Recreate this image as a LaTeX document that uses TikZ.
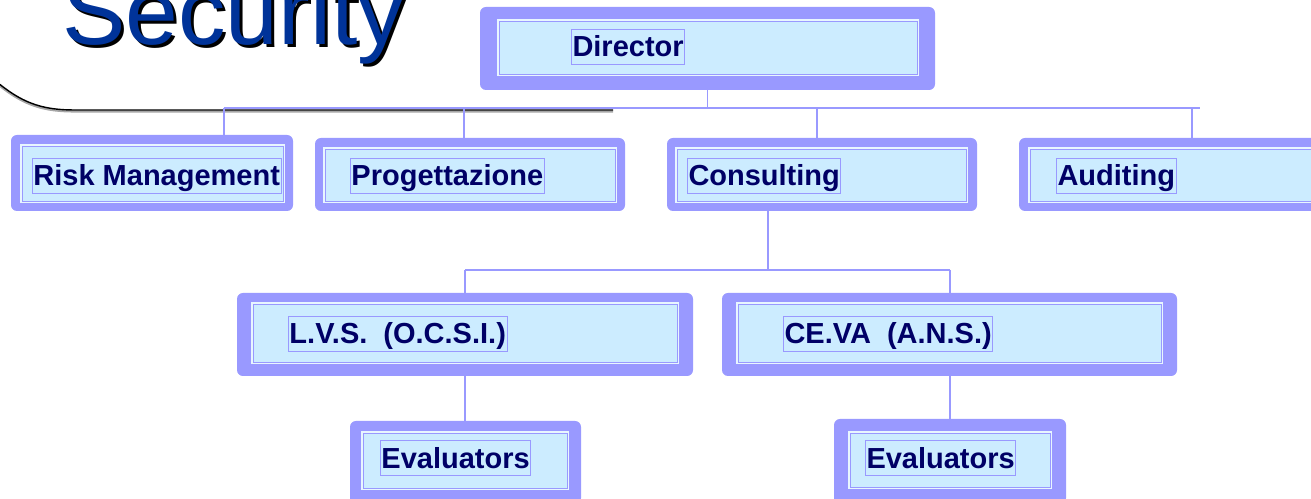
\documentclass[tikz,border=0pt]{standalone}
\usepackage{fontspec}
\setmainfont{Liberation Sans}

\definecolor{unitframe}{HTML}{9999FF}
\definecolor{unitfill}{HTML}{CCECFF}
\definecolor{unittext}{HTML}{000066}
\definecolor{titleblue}{HTML}{003399}

\newcommand{\px}{0.02cm}

\tikzset{
	outerbox/.style = {fill = unitframe, rounded corners = 3.4pt, inner sep = 0pt},
	innerbox/.style = {fill = unitfill, draw = unitframe, line width = 0.5pt, inner sep = 0pt,
		preaction = {draw = white!55!unitfill, line width = 2.4pt}},
	namebox/.style = {draw = unitframe, line width = 0.5pt, text = unittext,
		font = \bfseries\fontsize{16.5}{18}\selectfont, inner xsep = 0.6pt, inner ysep = 0.5pt,
		text height = 15.2pt, text depth = 3.6pt, anchor = base west},
	bus/.style = {draw = unitframe, line width = 1.1pt}
}

\begin{document}
\begin{tikzpicture}[x = 0.02cm, y = -0.02cm]

	\useasboundingbox (0, 0) rectangle (1311, 499);
	\clip (0, 0) rectangle (1311, 499);

	% Title
	
	\draw [black!35, line width = 1.2pt] (0, 86) .. controls (25, 106) and (45, 111.5) .. (75, 111.5) -- (613, 111.5);
	\draw [black, line width = 0.8pt] (0, 84.5) .. controls (25, 104.5) and (45, 110) .. (75, 110) -- (613, 110);
	
	\node [anchor = base west, inner sep = 0pt, text = black, font = \fontsize{54}{60}\selectfont] at (65, 48) {Security};
	\node [anchor = base west, inner sep = 0pt, text = titleblue, font = \fontsize{54}{60}\selectfont] (title) at (62, 45) {Security};
	
	% Units
	
	\node [outerbox, minimum width = 455*\px, minimum height = 83*\px] (dir) at (707.5, 48.5) {};
	\node [innerbox, minimum width = 418*\px, minimum height = 53*\px] at (708, 47.5) {};
	\node [namebox] at (571, 57) {Director};
	
	\node [outerbox, minimum width = 282*\px, minimum height = 76*\px] (risk) at (152, 173) {};
	\node [innerbox, minimum width = 261*\px, minimum height = 55*\px] at (152.5, 173.5) {};
	\node [namebox] at (32, 186) {Risk Management};
	
	\node [outerbox, minimum width = 310*\px, minimum height = 73*\px] (prog) at (470, 174.5) {};
	\node [innerbox, minimum width = 290*\px, minimum height = 52*\px] at (470, 175) {};
	\node [namebox] at (350, 186) {Progettazione};
	
	\node [outerbox, minimum width = 310*\px, minimum height = 73*\px] (cons) at (822, 174.5) {};
	\node [innerbox, minimum width = 289*\px, minimum height = 52*\px] at (821.5, 175) {};
	\node [namebox] at (687, 186) {Consulting};
	
	\node [outerbox, minimum width = 311*\px, minimum height = 73*\px] (audit) at (1174.5, 174.5) {};
	\node [innerbox, minimum width = 290*\px, minimum height = 52*\px] at (1175, 175) {};
	\node [namebox] at (1056, 186) {Auditing};
	
	\node [outerbox, minimum width = 456*\px, minimum height = 83*\px] (lvs) at (465, 334.5) {};
	\node [innerbox, minimum width = 424*\px, minimum height = 58*\px] at (465, 333) {};
	\node [namebox] at (288, 344) {L.V.S.\ \ (O.C.S.I.)};
	
	\node [outerbox, minimum width = 455*\px, minimum height = 83*\px] (ceva) at (949.5, 334.5) {};
	\node [innerbox, minimum width = 423*\px, minimum height = 58*\px] at (949.5, 333) {};
	\node [namebox] at (783, 344) {CE.VA\ \ (A.N.S.)};
	
	\node [outerbox, minimum width = 231*\px, minimum height = 83*\px] (evall) at (465.5, 462.5) {};
	\node [innerbox, minimum width = 204*\px, minimum height = 55*\px] at (465, 460.5) {};
	\node [namebox] at (380, 468) {Evaluators};
	
	\node [outerbox, minimum width = 232*\px, minimum height = 85*\px] (evalr) at (950, 461.5) {};
	\node [innerbox, minimum width = 200*\px, minimum height = 54*\px] at (950, 460) {};
	\node [namebox] at (865, 468) {Evaluators};
	
	% Connectors
	
	\coordinate (bus-l) at (224, 108);
	\coordinate (bus-r) at (1200, 108);
	
	\draw [bus] (dir.south) -- (dir.south |- bus-l);
	\draw [bus] (bus-l) -- (bus-r);
	
	\foreach \x/\n in {224/risk, 464/prog, 817/cons, 1192/audit} {
		\coordinate (drop-\n) at (\x, 108);
		\draw [bus] (drop-\n) -- (drop-\n |- \n.north);
	}
	
	\coordinate (lowbus-c) at (768, 270);
	\coordinate (lowbus-l) at (465, 270);
	\coordinate (lowbus-r) at (950, 270);
	
	\draw [bus] (lowbus-c |- cons.south) -- (lowbus-c);
	\draw [bus] (lowbus-l) -- (lowbus-r);
	\draw [bus] (lowbus-l) -- (lowbus-l |- lvs.north);
	\draw [bus] (lowbus-r) -- (lowbus-r |- ceva.north);
	
	\draw [bus] (lvs.south) -- (lvs.south |- evall.north);
	\draw [bus] (lowbus-r |- ceva.south) -- (lowbus-r |- evalr.north);

\end{tikzpicture}
\end{document}
